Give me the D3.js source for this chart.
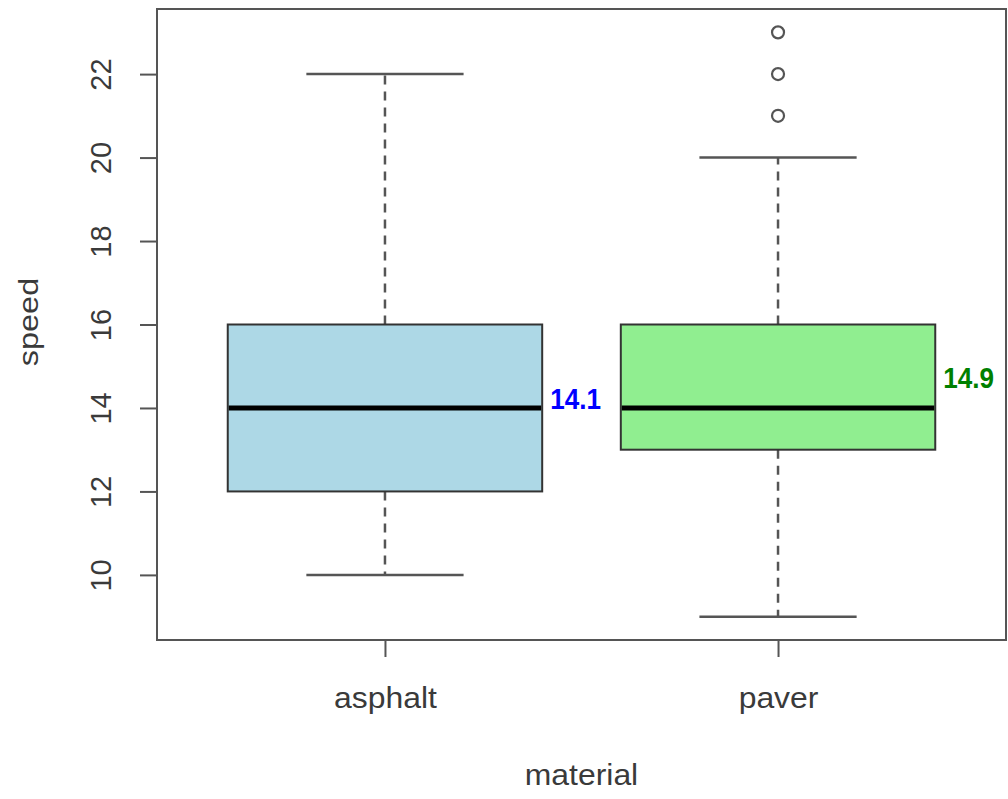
<!DOCTYPE html>
<html>
<head>
<meta charset="utf-8">
<script src="https://cdn.jsdelivr.net/npm/d3@7"></script>
<style>
html,body{margin:0;padding:0;background:#fff;}
svg{display:block;}
text{font-family:"Liberation Sans",Arial,Helvetica,sans-serif;}
</style>
</head>
<body>
<svg id="chart" width="1008" height="799"></svg>
<script>
// ---- data ----
const categories = ["asphalt", "paver"];
const whiskerLow = [10, 9];
const q1 = [12, 13];
const median = [14, 14];
const q3 = [16, 16];
const whiskerHigh = [22, 20];
const outliers = [[], [21, 22, 23]];
const means = [14.1, 14.9];
const meanLabels = ["14.1", "14.9"];
const boxFills = ["#ADD8E6", "#90EE90"];
const labelColors = ["#0000FF", "#008000"];
const yTicks = [10, 12, 14, 16, 18, 20, 22];
const xTitle = "material";
const yTitle = "speed";

// ---- layout ----
const plot = {left: 157, right: 1006, top: 9, bottom: 640};
const labelNudge = [-5, 8];
const axisColor = "#555";
const textColor = "#3a3a3a";

const svg = d3.select("#chart");

const x = d3.scaleLinear().domain([0.42, 2.58]).range([plot.left, plot.right]);
const y = d3.scaleLinear().domain([8.44, 23.56]).range([plot.bottom, plot.top]);

const boxHalf = 0.4, capHalf = 0.2;

const g = svg.append("g");

categories.forEach((c, i) => {
  const cx = x(i + 1);
  const grp = g.append("g");
  // whiskers (dashed)
  [[q3[i], whiskerHigh[i]], [q1[i], whiskerLow[i]]].forEach(([a, b]) => {
    grp.append("line")
      .attr("x1", cx).attr("x2", cx)
      .attr("y1", y(a)).attr("y2", y(b))
      .attr("stroke", axisColor).attr("stroke-width", 2.5)
      .attr("stroke-dasharray", "9,7");
  });
  // caps
  [whiskerLow[i], whiskerHigh[i]].forEach(v => {
    grp.append("line")
      .attr("x1", x(i + 1 - capHalf)).attr("x2", x(i + 1 + capHalf))
      .attr("y1", y(v)).attr("y2", y(v))
      .attr("stroke", axisColor).attr("stroke-width", 2.5);
  });
  // box
  grp.append("rect")
    .attr("x", x(i + 1 - boxHalf))
    .attr("y", y(q3[i]))
    .attr("width", x(i + 1 + boxHalf) - x(i + 1 - boxHalf))
    .attr("height", y(q1[i]) - y(q3[i]))
    .attr("fill", boxFills[i])
    .attr("stroke", "#333").attr("stroke-width", 2);
  // median
  grp.append("line")
    .attr("x1", x(i + 1 - boxHalf) + 1).attr("x2", x(i + 1 + boxHalf) - 1)
    .attr("y1", y(median[i])).attr("y2", y(median[i]))
    .attr("stroke", "#000").attr("stroke-width", 5);
  // outliers
  grp.selectAll("circle.out").data(outliers[i]).enter().append("circle")
    .attr("class", "out")
    .attr("cx", cx).attr("cy", d => y(d)).attr("r", 6)
    .attr("fill", "none").attr("stroke", axisColor).attr("stroke-width", 2.2);
  // mean label
  grp.append("text")
    .attr("transform", `translate(${x(i + 1 + boxHalf) + 8},${y(means[i]) + labelNudge[i]}) scale(0.9,1)`)
    .attr("dominant-baseline", "central")
    .attr("font-size", 29).attr("font-weight", "bold")
    .attr("fill", labelColors[i])
    .text(meanLabels[i]);
});

// frame
svg.append("rect")
  .attr("x", plot.left).attr("y", plot.top)
  .attr("width", plot.right - plot.left).attr("height", plot.bottom - plot.top)
  .attr("fill", "none").attr("stroke", axisColor).attr("stroke-width", 2);

// y axis
const yAxis = d3.axisLeft(y).tickValues(yTicks).tickSize(17).tickPadding(0).tickFormat(d3.format("d"));
const ya = svg.append("g").attr("transform", `translate(${plot.left},0)`).call(yAxis);
ya.select(".domain").remove();
ya.selectAll(".tick line").attr("stroke", axisColor).attr("stroke-width", 2);
ya.selectAll(".tick text")
  .attr("x", 0).attr("dy", null).attr("y", 0)
  .attr("text-anchor", "middle")
  .attr("dominant-baseline", "central")
  .attr("transform", "translate(-56,0) rotate(-90)")
  .attr("font-size", 29).attr("fill", textColor)
  .attr("font-family", null);

// x axis
const xAxis = d3.axisBottom(x).tickValues([1, 2]).tickSize(17).tickPadding(0).tickFormat(d => categories[d - 1]);
const xa = svg.append("g").attr("transform", `translate(0,${plot.bottom})`).call(xAxis);
xa.select(".domain").remove();
xa.selectAll(".tick line").attr("stroke", axisColor).attr("stroke-width", 2);
xa.selectAll(".tick text")
  .attr("y", 0).attr("dy", null)
  .attr("transform", "translate(0,58) scale(1.1,1)")
  .attr("dominant-baseline", "central")
  .attr("font-size", 29).attr("fill", textColor)
  .attr("font-family", null);

// titles
svg.append("text")
  .attr("transform", `translate(${(plot.left + plot.right) / 2},775) scale(1.1,1)`)
  .attr("text-anchor", "middle").attr("dominant-baseline", "central")
  .attr("font-size", 29).attr("fill", textColor)
  .text(xTitle);
svg.append("text")
  .attr("transform", `translate(28,322) rotate(-90) scale(1.16,1)`)
  .attr("text-anchor", "middle").attr("dominant-baseline", "central")
  .attr("font-size", 28).attr("fill", textColor)
  .text(yTitle);
</script>
</body>
</html>
